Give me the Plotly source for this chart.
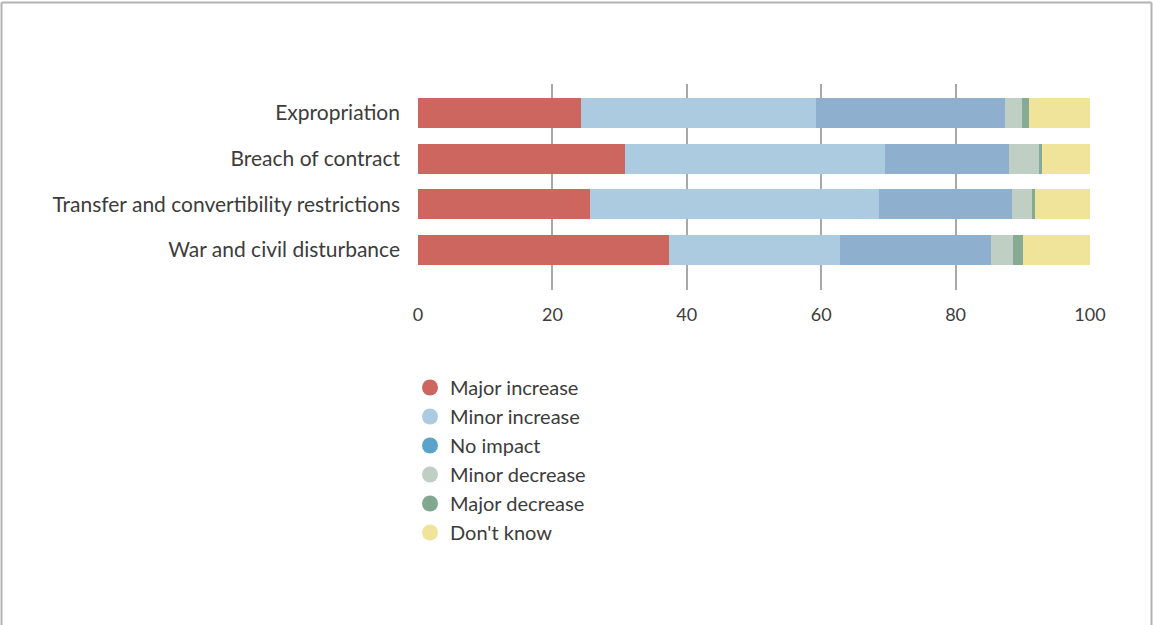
import plotly.graph_objects as go

categories = ["Expropriation", "Breach of contract",
              "Transfer and convertibility restrictions", "War and civil disturbance"]
series_names = ["Major increase", "Minor increase", "No impact",
                "Minor decrease", "Major decrease", "Don't know"]
major_increase = [24.3, 30.8, 25.6, 37.4]
minor_increase = [34.9, 38.7, 43.0, 25.4]
no_impact = [28.2, 18.5, 19.8, 22.5]
minor_decrease = [2.5, 4.4, 3.0, 3.2]
major_decrease = [1.0, 0.5, 0.4, 1.5]
dont_know = [9.1, 7.1, 8.2, 10.0]
x_ticks = [0, 20, 40, 60, 80, 100]

values = [major_increase, minor_increase, no_impact,
          minor_decrease, major_decrease, dont_know]
bar_colors = ["#CD665F", "#ACCBE0", "#8FAFCF", "#BFCFC3", "#86AA93", "#F0E49B"]
legend_colors = ["#CD665F", "#ACCBE0", "#5BA3C9", "#BFCFC3", "#80A890", "#F0E49B"]

FONT = "Lato"
TXT = "#3c3c3c"

fig = go.Figure()
for name, vals, col in zip(series_names, values, bar_colors):
    fig.add_trace(go.Bar(
        y=categories, x=vals, name=name, orientation="h",
        marker=dict(color=col, line=dict(width=0)),
        width=0.657, showlegend=False, hoverinfo="x+y+name"))
for name, col in zip(series_names, legend_colors):
    fig.add_trace(go.Scatter(
        x=[None], y=[None], mode="markers", name=name,
        marker=dict(symbol="circle", size=16, color=col),
        showlegend=True))

W, H = 1153, 625
L, R, T, B = 418, 1090, 84, 290
pw, ph = R - L, B - T

def px_x(p):
    return (p - L) / pw

def px_y(p):
    return (B - p) / ph

fig.update_layout(
    width=W, height=H,
    barmode="stack",
    margin=dict(l=L, r=W - R, t=T, b=H - B, pad=0),
    paper_bgcolor="white", plot_bgcolor="white",
    font=dict(family=FONT, color=TXT),
    xaxis=dict(range=[0, 100], tickvals=x_ticks, showgrid=True,
               gridcolor="#a8a8a8", gridwidth=1.5, zeroline=False,
               showline=False, ticks="", tickfont=dict(size=18, color=TXT),
               ticklabelstandoff=12, fixedrange=True),
    yaxis=dict(categoryorder="array", categoryarray=categories,
               range=[3.876, -0.635], showgrid=False, zeroline=False,
               showline=False, ticks="", tickfont=dict(size=21, color=TXT),
               ticklabelstandoff=17, fixedrange=True),
    legend=dict(x=px_x(410), y=px_y(368), xanchor="left", yanchor="top",
                font=dict(size=20, color=TXT), tracegroupgap=0,
                traceorder="normal",
                itemsizing="trace", bgcolor="rgba(0,0,0,0)",
                itemwidth=30),
    shapes=[
        dict(type="line", xref="paper", yref="paper",
             x0=px_x(1.5), x1=px_x(1.5), y0=px_y(2.5), y1=px_y(625),
             line=dict(color="#b3b3b3", width=2)),
        dict(type="line", xref="paper", yref="paper",
             x0=px_x(1.5), x1=px_x(1151.5), y0=px_y(2.5), y1=px_y(2.5),
             line=dict(color="#b3b3b3", width=2)),
        dict(type="line", xref="paper", yref="paper",
             x0=px_x(1151.5), x1=px_x(1151.5), y0=px_y(2.5), y1=px_y(625),
             line=dict(color="#b3b3b3", width=2)),
    ],
)

fig.write_html("out.html",
               config={"displayModeBar": False},
               post_script="document.body.style.margin='0';document.body.style.padding='0';")
